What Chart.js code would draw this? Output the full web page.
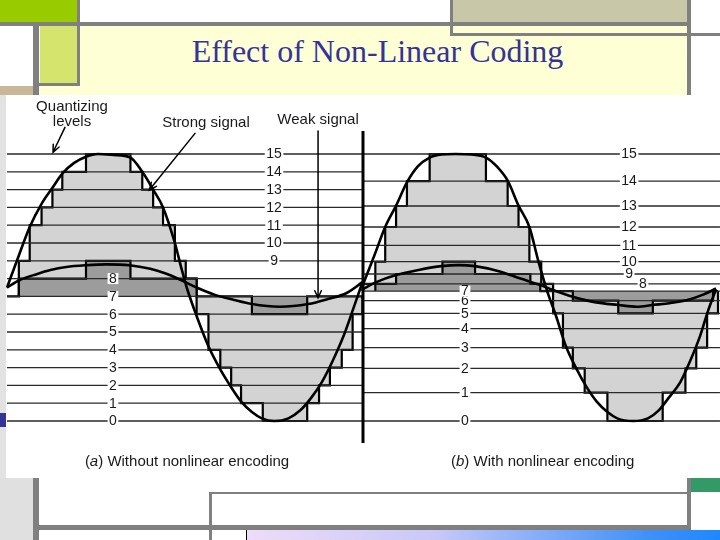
<!DOCTYPE html>
<html><head><meta charset="utf-8">
<script src="https://cdn.jsdelivr.net/npm/chart.js@4.4.1/dist/chart.umd.min.js"></script>
<style>
html,body{margin:0;padding:0;background:#fff}
#slide{position:relative;width:720px;height:540px;overflow:hidden;background:#fff}
.b{position:absolute}
#title{position:absolute;left:0;top:35px;width:755px;text-align:center;font-family:'Liberation Serif','Times New Roman',serif;font-size:32px;line-height:32px;color:#333399;white-space:nowrap}
#c{position:absolute;left:6px;top:95px;background:#fff}
</style></head><body>
<div id="slide">
<div class="b" style="left:40px;top:26px;width:647px;height:70px;background:#ffffd6"></div>
<div class="b" style="left:0;top:0;width:77px;height:22px;background:#99cc00"></div>
<div class="b" style="left:450px;top:0;width:237px;height:22px;background:#c8c8a8"></div>
<div class="b" style="left:0;top:22px;width:691px;height:4px;background:#808080"></div>
<div class="b" style="left:450px;top:0;width:3px;height:36px;background:#808080"></div>
<div class="b" style="left:450px;top:33px;width:270px;height:3px;background:#808080"></div>
<div class="b" style="left:687px;top:0;width:4px;height:100px;background:#808080"></div>
<div class="b" style="left:40px;top:26px;width:37px;height:57px;background:#d4e46c"></div>
<div class="b" style="left:77px;top:0;width:3px;height:86px;background:#808080"></div>
<div class="b" style="left:33px;top:83px;width:47px;height:3px;background:#808080"></div>
<div class="b" style="left:0;top:86px;width:33px;height:14px;background:#c8b899"></div>
<div class="b" style="left:33px;top:26px;width:6px;height:514px;background:#808080"></div>
<div class="b" style="left:0;top:95px;width:7px;height:383px;background:#e2e2e2"></div>
<div class="b" style="left:0;top:413px;width:7px;height:14px;background:#333399"></div>
<div class="b" style="left:0;top:478px;width:33px;height:62px;background:#e0e0e0"></div>
<div class="b" style="left:39px;top:525px;width:652px;height:5px;background:#808080"></div>
<div class="b" style="left:209px;top:492px;width:3px;height:48px;background:#808080"></div>
<div class="b" style="left:209px;top:492px;width:480px;height:2px;background:#808080"></div>
<div class="b" style="left:687px;top:478px;width:4px;height:52px;background:#808080"></div>
<div class="b" style="left:691px;top:478px;width:29px;height:14px;background:#339966"></div>
<div class="b" style="left:246px;top:530px;width:474px;height:10px;background:linear-gradient(90deg,#eedcf8,#c8c8f8 40%,#4090f8 85%,#1e88ff)"></div>
<div class="b" style="left:246px;top:530px;width:1px;height:10px;background:#000"></div>
<div id="title">Effect of Non-Linear Coding</div>
<canvas id="c" width="714" height="383"></canvas>
</div>
<script>
// ---------- data (x = signal phase in degrees, y = signal amplitude in level units) ----------
const levelTicks = ['0','1','2','3','4','5','6','7','8','9','10','11','12','13','14','15'];
// amplitude at which each quantizing level sits
const levelPosA = [0,1,2,3,4,5,6,7,8,9,10,11,12,13,14,15];                 // (a) uniform
const levelPosB = [0,1.59,2.96,4.12,5.19,6.05,6.76,7.30,7.70,8.26,8.95,9.87,10.90,12.08,13.48,15.00]; // (b) nonlinear

// analog signals, panel (a)
const strongA_t = [0,12,23,35,46,56,68,80,92,108,125,137,148,158,170,177,182,192,204,216,227,237,248,258,271,285,297,308,319,330,341,350,360];
const strongA_v = [7.5,9.3,10.9,12.2,13.1,13.9,14.5,14.85,15.0,14.95,14.8,14.0,13.0,12.0,10.0,8.5,7.5,5.9,4.2,2.9,1.9,1.1,0.5,0.15,0.0,0.15,0.6,1.3,2.2,3.4,4.8,6.2,7.8];
const weakA_t = [0,13,30,44,60,80,101,124,145,160,175,192,210,230,248,276,305,325,344,360];
const weakA_v = [7.5,7.92,8.25,8.48,8.65,8.75,8.8,8.75,8.55,8.3,7.95,7.5,7.1,6.8,6.57,6.42,6.57,6.85,7.19,7.8];
// analog signals, panel (b)
const strongB_t = [360,372,383,394,405,416,428,440,454,470,485,496,507,518,529,538,547,556,566,577,587,597,608,618,634,649,660,670,682,692,702,710,718];
const strongB_v = [7.6,9.3,10.9,12.1,13.4,14.3,14.8,14.97,15.0,14.97,14.8,14.3,13.5,12.1,10.9,9.0,7.3,5.9,4.2,2.9,1.9,1.1,0.5,0.15,0.0,0.15,0.6,1.3,2.2,3.4,4.8,6.2,7.4];
const weakB_t = [360,374,394,418,440,457,474,499,520,540,553,573,595,619,638,654,671,689,705,715,718];
const weakB_v = [7.4,7.8,8.2,8.5,8.7,8.76,8.7,8.4,8.0,7.64,7.36,6.98,6.68,6.52,6.42,6.52,6.62,6.8,7.1,7.36,7.45];

// quantized (sampled) values: level index held from each edge to the next
const qStrongA_t  = [0,12,23,35,46,56,80,125,137,148,158,170,181,192,204,216,227,237,259,304,316,327,339,350,360];
const qStrongA_lv = [7,9,11,12,13,14,15,14,13,12,11,9,8,6,4,3,2,1,0,1,2,3,4,6,7];
const qWeakA_t  = [12,12,80,125,192,248,304,360];
const qWeakA_lv = [7,8,9,8,7,6,7,7];
const qStrongB_t  = [360,360,373,383,394,405,428,485,507,518,529,541,553,563,573,585,608,664,687,698,709,720];
const qStrongB_lv = [7,8,10,12,13,14,15,14,13,12,10,8,5,3,2,1,0,1,2,3,5,7];
const qWeakB_t  = [373,373,394,441,474,530,540,573,619,654,715,720];
const qWeakB_lv = [7,8,9,10,9,8,7,6,5,6,7,7];

const baseLevel = 7;
const panelA = [0, 360.5];
const panelB = [360.5, 722];

// ---------- build datasets ----------
const pts = (t, v) => t.map((x, i) => ({x, y: v[i]}));
const qPts = (t, lv, pos) => t.map((x, i) => ({x, y: pos[lv[i]]}));
function levelLines(pos, span) {
  const d = [];
  pos.forEach(p => { d.push({x: span[0], y: p}, {x: span[1], y: p}, {x: span[1], y: null}); });
  return d;
}
const LIGHT = '#d3d3d3', DARK = '#9c9c9c';
const stepDs = (data, base, bg, order) => ({data, stepped: true, fill: {value: base}, backgroundColor: bg,
  borderColor: '#000', borderWidth: 2.2, order, pointRadius: 0});
const curveDs = (data) => ({data, borderColor: '#000', borderWidth: 2.6, cubicInterpolationMode: 'monotone',
  fill: false, order: 2, pointRadius: 0});
const lineDs = (data) => ({data, borderColor: '#2a2a2a', borderWidth: 1.3, fill: false, order: 8, pointRadius: 0, spanGaps: false});

const datasets = [
  stepDs(qPts(qStrongA_t, qStrongA_lv, levelPosA), levelPosA[baseLevel], LIGHT, 10),
  stepDs(qPts(qStrongB_t, qStrongB_lv, levelPosB), levelPosB[baseLevel], LIGHT, 10),
  stepDs(qPts(qWeakA_t, qWeakA_lv, levelPosA), levelPosA[baseLevel], DARK, 9),
  stepDs(qPts(qWeakB_t, qWeakB_lv, levelPosB), levelPosB[baseLevel], DARK, 9),
  lineDs(levelLines(levelPosA, panelA)),
  lineDs(levelLines(levelPosB, panelB)),
  curveDs(pts(strongA_t, strongA_v)),
  curveDs(pts(weakA_t, weakA_v)),
  curveDs(pts(strongB_t, strongB_v)),
  curveDs(pts(weakB_t, weakB_v))
];

// ---------- annotations ----------
const annot = {
  id: 'annot',
  afterDatasetsDraw(chart, _a, o) {
    const ctx = chart.ctx, X = chart.scales.x, Y = chart.scales.y;
    const px = v => X.getPixelForValue(v), py = v => Y.getPixelForValue(v);
    ctx.save();
    // divider / axis between the panels
    ctx.strokeStyle = '#000'; ctx.lineWidth = 3;
    ctx.beginPath(); ctx.moveTo(px(o.divider.x), py(o.divider.top)); ctx.lineTo(px(o.divider.x), py(o.divider.bottom)); ctx.stroke();

    // level labels
    ctx.font = o.labelFont; ctx.textAlign = 'center'; ctx.textBaseline = 'middle';
    const lbl = (t, xv, yv) => {
      const cx = px(xv), cy = py(yv), w = ctx.measureText(t).width + 3;
      ctx.fillStyle = '#fff'; ctx.fillRect(cx - w / 2, cy - 5.5, w, 11);
      ctx.fillStyle = '#1a1a1a'; ctx.fillText(t, cx, cy + 0.5);
    };
    levelTicks.forEach((t, k) => {
      lbl(t, k >= 9 ? o.colA.upper : o.colA.lower, levelPosA[k]);
      lbl(t, k >= 9 ? o.colB.upper : (k === 8 ? o.colB.eight : o.colB.lower), levelPosB[k]);
    });

    // callout texts
    ctx.font = o.textFont; ctx.fillStyle = '#1a1a1a';
    o.texts.forEach(tx => ctx.fillText(tx.text, px(tx.at[0]), py(tx.at[1])));

    // arrows
    ctx.strokeStyle = '#000'; ctx.lineWidth = 1.5; ctx.lineCap = 'round';
    o.arrows.forEach(a => {
      const x1 = px(a.from[0]), y1 = py(a.from[1]), x2 = px(a.to[0]), y2 = py(a.to[1]);
      const ang = Math.atan2(y2 - y1, x2 - x1), L = 8, s = 0.42;
      ctx.beginPath(); ctx.moveTo(x1, y1); ctx.lineTo(x2, y2);
      ctx.moveTo(x2 - L * Math.cos(ang - s), y2 - L * Math.sin(ang - s)); ctx.lineTo(x2, y2);
      ctx.lineTo(x2 - L * Math.cos(ang + s), y2 - L * Math.sin(ang + s)); ctx.stroke();
    });

    // captions with italic panel letter
    o.captions.forEach(c => {
      const f = o.textFont;
      ctx.font = f; const w1 = ctx.measureText('(').width, w3 = ctx.measureText(') ' + c.rest).width;
      ctx.font = 'italic ' + f; const w2 = ctx.measureText(c.letter).width;
      let x0 = px(c.at[0]) - (w1 + w2 + w3) / 2; const y0 = py(c.at[1]);
      ctx.textAlign = 'left';
      ctx.font = f; ctx.fillText('(', x0, y0); x0 += w1;
      ctx.font = 'italic ' + f; ctx.fillText(c.letter, x0, y0); x0 += w2;
      ctx.font = f; ctx.fillText(') ' + c.rest, x0, y0);
    });
    ctx.restore();
  }
};

new Chart(document.getElementById('c'), {
  type: 'line',
  data: {datasets},
  options: {
    responsive: false, animation: false, devicePixelRatio: 1, events: [],
    layout: {padding: 0},
    elements: {point: {radius: 0, hoverRadius: 0}, line: {tension: 0}},
    scales: {
      x: {type: 'linear', display: false, min: -1.013, max: 722.03},
      y: {type: 'linear', display: false, min: -3.202, max: 18.315}
    },
    plugins: {
      legend: {display: false}, tooltip: {enabled: false}, title: {display: false},
      annot: {
        labelFont: "14px 'Liberation Sans', Arial, sans-serif",
        textFont: "15px 'Liberation Sans', Arial, sans-serif",
        divider: {x: 360.5, top: 16.29, bottom: -1.24},
        colA: {upper: 270.4, lower: 107.3},
        colB: {upper: 630, lower: 463.8, eight: 644},
        texts: [
          {text: 'Quantizing', at: [65.8, 17.67]},
          {text: 'levels', at: [65.8, 16.8]},
          {text: 'Strong signal', at: [201.5, 16.77]},
          {text: 'Weak signal', at: [315, 16.91]}
        ],
        arrows: [
          {from: [58.7, 16.5], to: [46.6, 15.1]},
          {from: [190.4, 16.16], to: [144.1, 12.98]},
          {from: [315, 16.29], to: [315, 6.91]}
        ],
        captions: [
          {letter: 'a', rest: 'Without nonlinear encoding', at: [182.3, -2.3]},
          {letter: 'b', rest: 'With nonlinear encoding', at: [542.5, -2.3]}
        ]
      }
    }
  },
  plugins: [annot]
});
</script>
</body></html>
